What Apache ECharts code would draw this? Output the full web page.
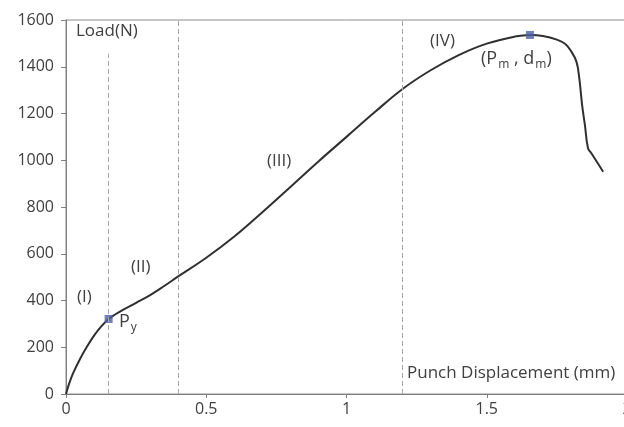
<!DOCTYPE html>
<html>
<head>
<meta charset="utf-8">
<script src="https://cdn.jsdelivr.net/npm/echarts@6/dist/echarts.min.js"></script>
<style>html,body{margin:0;padding:0;background:#fff}#c{width:624px;height:427px}</style>
</head>
<body>
<div id="c"></div>
<script>
// Punch displacement (mm) and load (N)
var disp = [0, 0.01, 0.025, 0.05, 0.075, 0.1, 0.125, 0.152, 0.175, 0.2, 0.25, 0.3, 0.35, 0.4, 0.5, 0.6, 0.7, 0.8, 0.9, 1.0, 1.1, 1.2, 1.3, 1.4, 1.5, 1.6, 1.654, 1.7, 1.75, 1.78, 1.8, 1.82, 1.83, 1.84, 1.85, 1.861, 1.873, 1.915];
var load = [0, 40, 88, 150, 203, 250, 288, 321, 340, 358, 390, 423, 462, 503, 583, 674, 778, 886, 995, 1100, 1205, 1305, 1385, 1450, 1499, 1529, 1536, 1532, 1516, 1497, 1468, 1421, 1350, 1236, 1150, 1051, 1030, 951];
// key points: yield (Py) and maximum (Pm, dm)
var keyDisp = [0.152, 1.654];
var keyLoad = [321, 1536];
// stage boundaries (mm) and their top extents (N)
var stageDisp = [0.15, 0.4, 1.2];
var stageTop = [1455, 1600, 1600];
var xTicks = [0, 0.5, 1, 1.5, 2];
var yTicks = [0, 200, 400, 600, 800, 1000, 1200, 1400, 1600];

var FONT = 'Open Sans';
var TXT = '#404040';
var curve = disp.map(function (d, i) { return [d, load[i]]; });
var keys = keyDisp.map(function (d, i) { return [d, keyLoad[i]]; });
var stageLines = stageDisp.map(function (d, i) { return [{ coord: [d, 0] }, { coord: [d, stageTop[i]] }]; });

var chart = echarts.init(document.getElementById('c'), null, { renderer: 'canvas' });
chart.setOption({
  animation: false,
  backgroundColor: '#fff',
  grid: { left: 66, right: -3, top: 20, bottom: 33, outerBoundsMode: 'none', containLabel: false, show: true, borderColor: '#8c8c8c', borderWidth: 1 },
  xAxis: {
    type: 'value', min: xTicks[0], max: xTicks[xTicks.length - 1], interval: 0.5,
    axisLine: { lineStyle: { color: '#7f7f7f', width: 1 } },
    axisTick: { show: true, length: 4, lineStyle: { color: '#7f7f7f' } },
    splitLine: { show: false },
    axisLabel: { color: TXT, fontFamily: FONT, fontSize: 16, margin: 7, hideOverlap: false, formatter: function (v) { return String(v); } }
  },
  yAxis: {
    type: 'value', min: yTicks[0], max: yTicks[yTicks.length - 1], interval: 200,
    axisLine: { show: true, lineStyle: { color: '#7f7f7f', width: 1 } },
    axisTick: { show: true, length: 5, lineStyle: { color: '#7f7f7f' } },
    splitLine: { show: false },
    axisLabel: { color: TXT, fontFamily: FONT, fontSize: 16, margin: 12, formatter: function (v) { return String(v); } }
  },
  series: [
    {
      type: 'line', data: curve, smooth: 0.4, showSymbol: false,
      lineStyle: { color: '#303030', width: 2 },
      markLine: {
        silent: true, symbol: ['none', 'none'], label: { show: false },
        lineStyle: { color: '#a8a8a8', type: [5, 3], width: 1 },
        data: stageLines
      },
      z: 3
    },
    {
      type: 'scatter', data: keys, symbol: 'rect', symbolSize: 8,
      itemStyle: { color: '#4e5ea6' }, z: 4
    }
  ],
  graphic: [
    { type: 'text', left: 76, top: 23, style: { text: 'Load(N)', font: '17px "Open Sans"', fill: TXT } },
    { type: 'text', left: 77, top: 289, style: { text: '(I)', font: '17px "Open Sans"', fill: TXT } },
    { type: 'text', left: 131, top: 259, style: { text: '(II)', font: '17px "Open Sans"', fill: TXT } },
    { type: 'text', left: 267, top: 153, style: { text: '(III)', font: '17px "Open Sans"', fill: TXT } },
    { type: 'text', left: 430, top: 33, style: { text: '(IV)', font: '17px "Open Sans"', fill: TXT } },
    { type: 'text', left: 119, top: 313, style: { rich: { a: { fontFamily: FONT, fontSize: 18, fill: TXT }, s: { fontFamily: FONT, fontSize: 12, fill: TXT, padding: [11, 0, 0, 1] } }, text: '{a|P}{s|y}' } },
    { type: 'text', left: 481, top: 50, style: { rich: { a: { fontFamily: FONT, fontSize: 18, fill: TXT }, s: { fontFamily: FONT, fontSize: 12, fill: TXT, padding: [11, 0, 0, 1] } }, text: '{a|(P}{s|m}{a| , d}{s|m}{a|)}' } },
    { type: 'text', left: 407, top: 365, style: { text: 'Punch Displacement (mm)', font: '17px "Open Sans"', fill: TXT } }
  ]
});
</script>
</body>
</html>
